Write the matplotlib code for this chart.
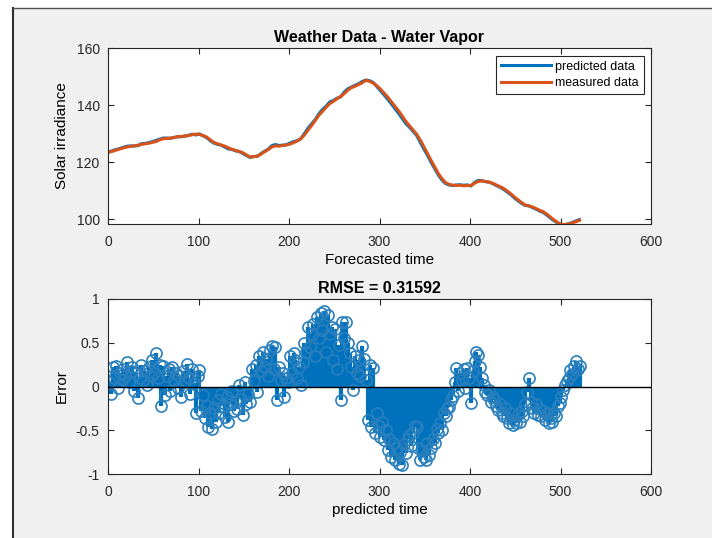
import numpy as np
import matplotlib
matplotlib.use('Agg')
import matplotlib.pyplot as plt
from matplotlib.patches import Rectangle
from matplotlib.lines import Line2D

# measured series, sampled every 4 time steps (t = 1, 5, 9, ... 521)
t_line = np.arange(1, 522, 4)
measured = [
    123.5, 123.8, 124.2, 124.6, 125.0, 125.3, 125.5, 125.7, 125.9, 126.2,
    126.4, 126.6, 126.9, 127.2, 127.8, 128.2, 128.3, 128.4, 128.6, 128.9,
    129.0, 129.1, 129.3, 129.6, 129.8, 129.7, 129.3, 128.8, 127.8, 126.9,
    126.4, 126.0, 125.6, 125.0, 124.5, 124.1, 123.7, 123.3, 122.5, 121.8,
    121.9, 122.1, 122.8, 123.6, 124.4, 125.3, 125.7, 125.6, 125.8, 126.0,
    126.3, 126.8, 127.4, 128.2, 129.5, 131.2, 132.8, 134.6, 136.4, 137.8,
    139.2, 140.5, 141.3, 142.2, 143.0, 144.0, 145.2, 146.1, 146.6, 147.2,
    147.8, 148.7, 148.3, 147.7, 146.8, 145.6, 144.2, 142.8, 141.2, 139.6,
    138.0, 136.2, 134.3, 132.8, 131.3, 129.8, 127.8, 125.4, 123.0, 120.6,
    118.3, 116.0, 114.2, 112.8, 112.2, 111.9, 111.8, 111.9, 111.7, 111.8,
    111.8, 112.6, 113.2, 113.4, 113.2, 113.0, 112.6, 112.0, 111.4, 110.8,
    109.9, 108.9, 107.8, 106.8, 105.8, 105.0, 104.6, 104.3, 103.7, 103.1,
    102.6, 101.7, 100.7, 99.7, 98.8, 98.1, 98.1, 98.3, 98.7, 99.1,
    99.6,
]

# prediction error, sampled every 2 time steps (t = 1, 3, 5, ... 521)
t_err = np.arange(1, 522, 2)
error = [
    0.05, -0.08, 0.22, 0.10, 0.24, -0.02, 0.15, 0.08, 0.20, 0.12,
    0.28, 0.05, 0.18, 0.22, -0.05, 0.15, -0.13, 0.10, 0.25, 0.08,
    0.18, 0.02, 0.22, 0.12, 0.30, 0.15, 0.38, 0.10, 0.25, -0.22,
    0.24, -0.10, 0.12, 0.20, -0.05, 0.22, 0.08, 0.16, -0.02, 0.12,
    -0.12, 0.18, 0.05, 0.26, 0.10, -0.08, 0.20, 0.04, -0.30, 0.12,
    0.19, -0.28, -0.10, -0.36, -0.22, -0.46, -0.30, -0.48, -0.25, -0.40,
    -0.15, -0.30, -0.08, -0.22, -0.35, -0.12, -0.40, -0.20, -0.05, -0.28,
    -0.18, -0.26, 0.02, -0.14, -0.32, 0.05, -0.20, -0.08, -0.18, 0.20,
    0.06, 0.25, -0.06, 0.35, 0.18, 0.40, 0.22, 0.32, 0.12, 0.42,
    0.46, 0.20, 0.45, -0.15, 0.22, 0.08, 0.15, -0.12, 0.10, 0.05,
    0.35, 0.15, 0.38, 0.30, 0.10, 0.22, 0.02, 0.28, 0.50, 0.40,
    0.68, 0.45, 0.60, 0.72, 0.35, 0.80, 0.55, 0.84, 0.65, 0.86,
    0.40, 0.82, 0.60, 0.68, 0.30, 0.66, 0.20, 0.48, -0.15, 0.74,
    0.55, 0.74, 0.50, 0.38, 0.22, -0.04, 0.35, 0.15, 0.30, 0.12,
    0.46, 0.32, 0.08, -0.38, 0.25, -0.46, 0.21, -0.53, -0.30, -0.45,
    -0.58, -0.40, -0.61, -0.50, -0.72, -0.60, -0.80, -0.65, -0.84, -0.70,
    -0.88, -0.75, -0.90, -0.66, -0.76, -0.60, -0.55, -0.68, -0.53, -0.45,
    -0.46, -0.70, -0.84, -0.72, -0.80, -0.84, -0.65, -0.78, -0.70, -0.60,
    -0.65, -0.48, -0.53, -0.42, -0.50, -0.30, -0.34, -0.25, -0.23, -0.15,
    -0.11, 0.05, 0.21, -0.05, 0.15, 0.08, 0.20, -0.02, 0.21, 0.10,
    -0.19, 0.18, 0.29, 0.40, 0.36, 0.22, 0.10, 0.02, -0.06, -0.10,
    -0.04, -0.18, -0.12, -0.15, -0.22, -0.27, -0.20, -0.30, -0.34, -0.25,
    -0.36, -0.42, -0.30, -0.44, -0.38, -0.42, -0.32, -0.40, -0.28, -0.34,
    -0.20, -0.06, 0.10, -0.18, -0.24, -0.30, -0.20, -0.32, -0.26, -0.34,
    -0.28, -0.38, -0.30, -0.42, -0.36, -0.40, -0.30, -0.34, -0.22, -0.19,
    -0.12, -0.04, 0.02, 0.06, 0.10, 0.19, 0.14, 0.24, 0.29, 0.20,
    0.23,
]

# predicted = measured + error at the shared time steps
predicted = np.array(measured) + np.array(error)[::2]

xticks = [0, 100, 200, 300, 400, 500, 600]
yticks_top = [100, 120, 140, 160]
yticks_bot = [-1, -0.5, 0, 0.5, 1]
ylabels_bot = ['-1', '-0.5', '0', '0.5', '1']

BLUE = '#0072BD'
ORANGE = '#D95319'
DARK = '#262626'

plt.rcParams['font.family'] = ['Liberation Sans', 'DejaVu Sans']
plt.rcParams['font.size'] = 10

fig = plt.figure(figsize=(7.12, 5.38), dpi=100, facecolor='white')
W, H = 712.0, 538.0

# window background and border of the screenshot
fig.patches.append(Rectangle((13 / W, 0), 1 - 13 / W, 1 - 8 / H,
                             transform=fig.transFigure, facecolor='#f0f0f0',
                             edgecolor='none', zorder=-10))
fig.lines.append(Line2D([13 / W, 13 / W], [0, 1 - 8 / H], transform=fig.transFigure,
                        color='#303030', lw=1.5, zorder=-9))
fig.lines.append(Line2D([13 / W, 1], [1 - 8 / H, 1 - 8 / H], transform=fig.transFigure,
                        color='#505050', lw=1.0, zorder=-9))


def style_axes(ax):
    ax.set_facecolor('white')
    for s in ax.spines.values():
        s.set_color(DARK)
        s.set_linewidth(0.8)
    ax.tick_params(direction='in', length=4, width=0.8, colors=DARK,
                   top=True, right=True, labelsize=10)
    ax.tick_params(axis='x', pad=8)
    ax.tick_params(axis='y', pad=6)
    ax.set_xlim(0, 600)
    ax.set_xticks(xticks)


ax1 = fig.add_axes([108 / W, 1 - 224 / H, (651 - 108) / W, 176 / H])
style_axes(ax1)
ax1.plot(t_line, predicted, color=BLUE, lw=2.2, label='predicted data')
ax1.plot(t_line, measured, color=ORANGE, lw=2.2, label='measured data')
ax1.set_ylim(98.3, 160)
ax1.set_yticks(yticks_top)
ax1.set_title('Weather Data - Water Vapor', fontsize=11.5, fontweight='bold', pad=4)
ax1.set_xlabel('Forecasted time', fontsize=11, labelpad=3)
ax1.set_ylabel('Solar irradiance', fontsize=11, labelpad=5)
leg = ax1.legend(loc='upper right', fontsize=9, handlelength=4.0, fancybox=False,
                 framealpha=1, edgecolor=DARK, borderaxespad=0.6,
                 borderpad=0.4, labelspacing=0.35, handletextpad=0.3)
leg.get_frame().set_linewidth(0.8)

ax2 = fig.add_axes([108 / W, 1 - 474 / H, (651 - 108) / W, 175 / H])
style_axes(ax2)
ml, sl, bl = ax2.stem(t_err, error, linefmt='-', markerfmt='o', basefmt='-')
plt.setp(sl, color=BLUE, linewidth=3.0)
plt.setp(ml, markerfacecolor='none', markeredgecolor='#2a7fbd', markersize=8,
         markeredgewidth=1.2)
bl.set_visible(False)
ax2.axhline(0, color='black', lw=1.0, zorder=3)
ax2.set_ylim(-1, 1)
ax2.set_yticks(yticks_bot)
ax2.set_yticklabels(ylabels_bot)
ax2.set_title('RMSE = 0.31592', fontsize=11.5, fontweight='bold', pad=4)
ax2.set_xlabel('predicted time', fontsize=11, labelpad=3)
ax2.set_ylabel('Error', fontsize=11, labelpad=5)

fig.savefig('out.png', dpi=100, facecolor=fig.get_facecolor())
